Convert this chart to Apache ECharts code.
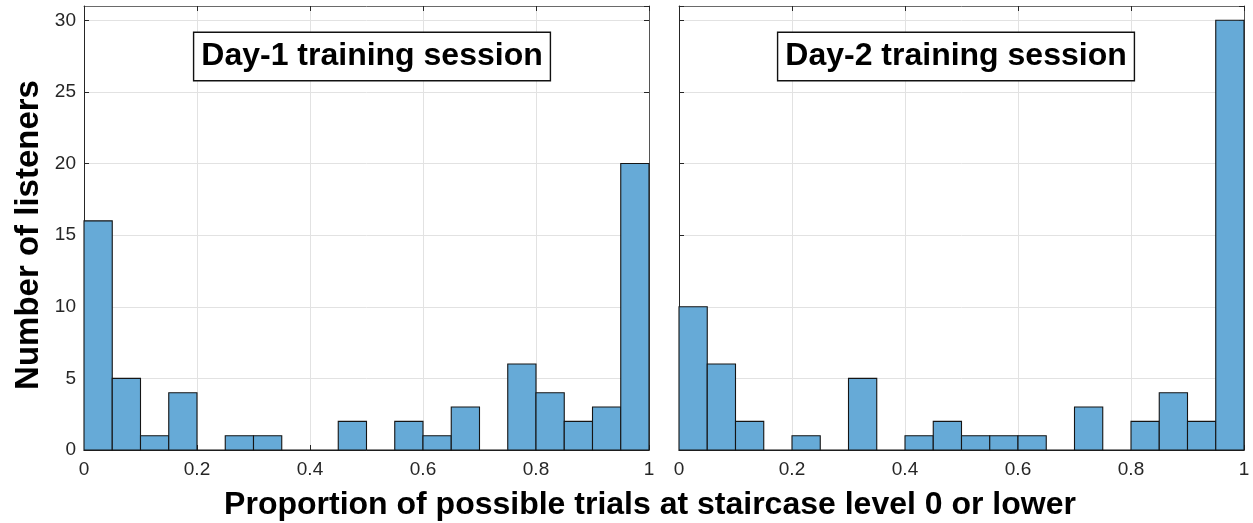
<!DOCTYPE html>
<html>
<head>
<meta charset="utf-8">
<script src="https://cdn.jsdelivr.net/npm/echarts@6/dist/echarts.min.js"></script>
<style>
html,body{margin:0;padding:0;background:#fff;}
#c{width:1253px;height:523px;}
</style>
</head>
<body>
<div id="c"></div>
<script>
// ---- data ----
const binEdges = [0,0.05,0.1,0.15,0.2,0.25,0.3,0.35,0.4,0.45,0.5,0.55,0.6,0.65,0.7,0.75,0.8,0.85,0.9,0.95,1];
const day1Counts = [16,5,1,4,0,1,1,0,0,2,0,2,1,3,0,6,4,2,3,20];
const day2Counts = [10,6,2,0,1,0,5,0,1,2,1,1,1,0,3,0,2,4,2,30];
const xTicks = [0,0.2,0.4,0.6,0.8,1];
const yTicks = [0,5,10,15,20,25,30];
const panelTitles = ['Day-1 training session','Day-2 training session'];
const xTitle = 'Proportion of possible trials at staircase level 0 or lower';
const yTitle = 'Number of listeners';

function binData(counts){
  return counts.map((c,i)=>[binEdges[i], binEdges[i+1], c]);
}

const FONT = 'Liberation Sans, Arial, Helvetica, sans-serif';
const AX = '#262626';
const GRIDC = '#e2e2e2';

function renderBar(params, api){
  const p0 = api.coord([api.value(0), 0]);
  const p1 = api.coord([api.value(1), api.value(2)]);
  return {
    type:'rect',
    shape:{x:p0[0], y:p1[1], width:p1[0]-p0[0], height:p0[1]-p1[1]},
    style:{fill:'#66aad7', stroke:'#151515', lineWidth:1.1}
  };
}

const chart = echarts.init(document.getElementById('c'), null, {renderer:'canvas'});

const grids = [
  {left:84, top:6, width:565, height:444},
  {left:679, top:6, width:565, height:444}
];

function xAxisFor(gi, pos, showLabels){
  return {
    type:'value', gridIndex:gi, position:pos, min:0, max:1, interval:0.2,
    axisLine:{show:true, onZero:false, lineStyle:{color: pos==='top' ? '#6a6a6a' : AX, width:1}},
    axisTick:{show:true, inside:true, length:5, lineStyle:{color:AX}},
    axisLabel:{show:showLabels, fontFamily:FONT, fontSize:19, color:AX, margin:10,
      formatter:v=> xTicks.includes(+v.toFixed(2)) ? String(+v.toFixed(2)) : ''},
    splitLine:{show:pos==='bottom', lineStyle:{color:GRIDC, width:1}}
  };
}
function yAxisFor(gi, pos, showLabels){
  return {
    type:'value', gridIndex:gi, position:pos, min:0, max:31, interval:5,
    axisLine:{show:true, onZero:false, lineStyle:{color: pos==='right' ? '#555' : AX, width:1}},
    axisTick:{show:true, inside:true, length:5, lineStyle:{color:AX}},
    axisLabel:{show:showLabels, fontFamily:FONT, fontSize:19, color:AX, margin:8, showMaxLabel:false,
      formatter:v=> yTicks.includes(v) ? String(v) : ''},
    splitLine:{show:pos==='left', lineStyle:{color:GRIDC, width:1}}
  };
}

function titleBox(cx, text){
  return {
    type:'text', x:cx, y:56.5, z:100,
    style:{
      text:text, x:0, y:0, align:'center', verticalAlign:'middle',
      font:'bold 32px ' + FONT, fill:'#000',
      backgroundColor:'#fff', borderColor:'#111', borderWidth:1.4,
      padding:[8,7,7,7]
    }
  };
}

const option = {
  backgroundColor:'#fff',
  animation:false,
  grid:grids,
  xAxis:[
    xAxisFor(0,'bottom',true), xAxisFor(0,'top',false),
    xAxisFor(1,'bottom',true), xAxisFor(1,'top',false)
  ],
  yAxis:[
    yAxisFor(0,'left',true), yAxisFor(0,'right',false),
    yAxisFor(1,'left',false), yAxisFor(1,'right',false)
  ],
  series:[
    {type:'custom', xAxisIndex:0, yAxisIndex:0, data:binData(day1Counts), renderItem:renderBar, clip:false},
    {type:'custom', xAxisIndex:2, yAxisIndex:2, data:binData(day2Counts), renderItem:renderBar, clip:false}
  ],
  graphic:[
    titleBox(372, panelTitles[0]),
    titleBox(956, panelTitles[1]),
    {type:'text', x:650, y:505, style:{text:xTitle, align:'center', verticalAlign:'middle', font:'bold 32px ' + FONT, fill:'#000'}},
    {type:'text', x:29, y:235, rotation:Math.PI/2, style:{text:yTitle, align:'center', verticalAlign:'middle', font:'bold 33px ' + FONT, fill:'#000'}}
  ]
};
chart.setOption(option);
</script>
</body>
</html>
